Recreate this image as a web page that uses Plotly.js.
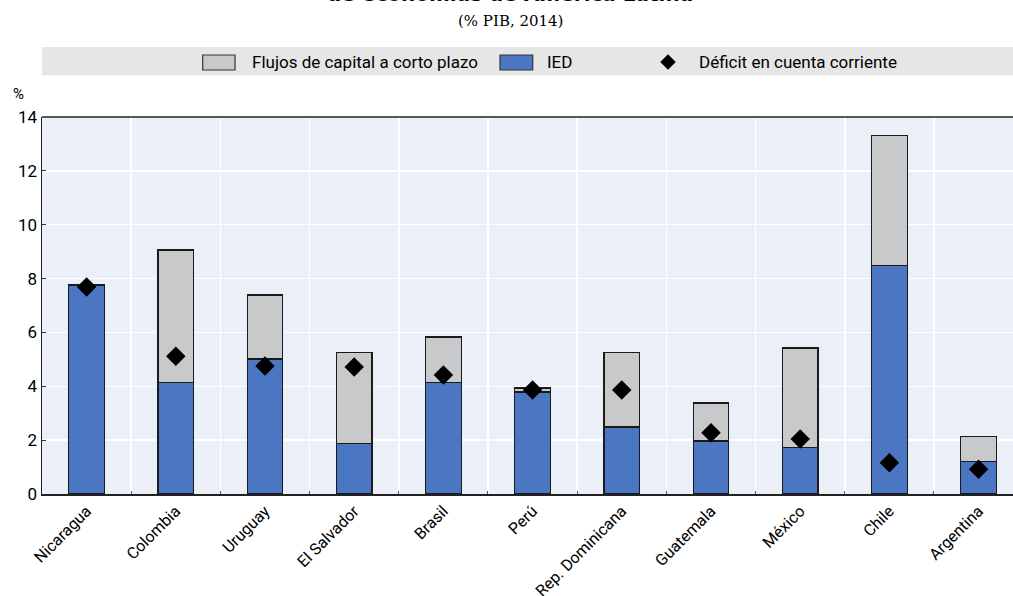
<!DOCTYPE html>
<html>
<head>
<meta charset="utf-8">
<script src="https://cdn.plot.ly/plotly-3.0.1.min.js"></script>
<style>html,body{margin:0;padding:0;background:#fff;}#chart{width:1013px;height:596px;}</style>
</head>
<body>
<div id="chart"></div>
<script>
const countries = ["Nicaragua","Colombia","Uruguay","El Salvador","Brasil","Perú","Rep. Dominicana","Guatemala","México","Chile","Argentina"];
const ied = [7.76, 4.15, 5.01, 1.87, 4.15, 3.79, 2.49, 1.97, 1.74, 8.5, 1.22];
const cortoPlazo = [0, 4.91, 2.38, 3.37, 1.68, 0.15, 2.75, 1.41, 3.68, 4.8, 0.93];
const deficit = [7.69, 5.12, 4.75, 4.72, 4.42, 3.86, 3.86, 2.27, 2.04, 1.16, 0.92];
const yTicks = [0, 2, 4, 6, 8, 10, 12, 14];
const seriesNames = ["Flujos de capital a corto plazo", "IED", "Déficit en cuenta corriente"];

const narrow = "Roboto, sans-serif";
const GREY = "#C8C9CB", BLUE = "#4A76C2";

const traces = [
  {type:"bar", name:seriesNames[1], x:countries, y:ied, showlegend:false,
   marker:{color:BLUE, line:{color:"#1a1a1a", width:1.2}}},
  {type:"bar", name:seriesNames[0], x:countries, y:cortoPlazo, showlegend:false,
   marker:{color:GREY, line:{color:"#1a1a1a", width:1.2}}},
  {type:"scatter", mode:"markers", name:seriesNames[2], x:countries, y:deficit, showlegend:false,
   marker:{symbol:"diamond", color:"#000", size:15}}
];

// legend drawn as shapes + text (paper coordinates)
const ly0 = 1.1247, ly1 = 1.1645, lyc = 1.1459;
const dx = 0.6447, dhx = 0.0080, dhy = 0.0207;
const layout = {
  width:1013, height:596,
  margin:{l:42, r:0, t:117, b:102},
  barmode:"stack", bargap:0.6,
  paper_bgcolor:"#fff", plot_bgcolor:"#EAEFF8",
  font:{family:narrow, size:16, color:"#000"},
  showlegend:false,
  xaxis:{type:"category", range:[-0.5, 10.386], tickson:"boundaries", showgrid:true, gridcolor:"#fff", gridwidth:1.5,
         ticks:"inside", ticklen:3, tickcolor:"#555", tickangle:-45,
         showline:true, linecolor:"#222", linewidth:1.5, tickfont:{size:16}, fixedrange:true},
  yaxis:{range:[0,14], tickvals:yTicks, showgrid:true, gridcolor:"#fff", gridwidth:1.5,
         ticks:"inside", ticklen:4, tickcolor:"#333", zeroline:false,
         showline:true, linecolor:"#222", linewidth:1.5, tickfont:{size:17}},
  shapes:[
    {type:"rect", xref:"paper", yref:"paper", x0:0, x1:1, y0:1.111, y1:1.186,
     fillcolor:"#E6E6E6", line:{width:0}, layer:"below"},
    {type:"line", xref:"paper", yref:"paper", x0:0, x1:1, y0:1, y1:1,
     line:{color:"#222", width:1.5}},
    {type:"rect", xref:"paper", yref:"paper", x0:0.1655, x1:0.1988, y0:ly0, y1:ly1,
     fillcolor:GREY, line:{color:"#333", width:1.2}},
    {type:"rect", xref:"paper", yref:"paper", x0:0.4717, x1:0.5054, y0:ly0, y1:ly1,
     fillcolor:BLUE, line:{color:"#333", width:1.2}},
    {type:"path", xref:"paper", yref:"paper",
     path:`M ${dx-dhx},${lyc} L ${dx},${lyc+dhy} L ${dx+dhx},${lyc} L ${dx},${lyc-dhy} Z`,
     fillcolor:"#000", line:{width:0}}
  ],
  annotations:[
    {text:seriesNames[0], xref:"paper", yref:"paper", x:0.2142, y:lyc, xanchor:"left", yanchor:"middle",
     showarrow:false, font:{family:narrow, size:17}},
    {text:seriesNames[1], xref:"paper", yref:"paper", x:0.518, y:lyc, xanchor:"left", yanchor:"middle",
     showarrow:false, font:{family:narrow, size:17}},
    {text:seriesNames[2], xref:"paper", yref:"paper", x:0.6746, y:lyc, xanchor:"left", yanchor:"middle",
     showarrow:false, font:{family:narrow, size:17}},
    {text:"<b>de economías de América Latina</b>", xref:"paper", yref:"paper",
     x:0.482, y:1.289, xanchor:"center", yanchor:"bottom", showarrow:false,
     font:{family:"DejaVu Sans, sans-serif", size:20, color:"#000"}},
    {text:"(% PIB, 2014)", xref:"paper", yref:"paper", x:0.482, y:1.255, xanchor:"center", yanchor:"middle",
     showarrow:false, font:{family:"DejaVu Serif, serif", size:15, color:"#000"}},
    {text:"%", xref:"paper", yref:"paper", x:-0.024, y:1.06, xanchor:"center", yanchor:"middle",
     showarrow:false, font:{family:narrow, size:15}}
  ]
};

Plotly.newPlot("chart", traces, layout, {displayModeBar:false, staticPlot:true});
</script>
</body>
</html>
